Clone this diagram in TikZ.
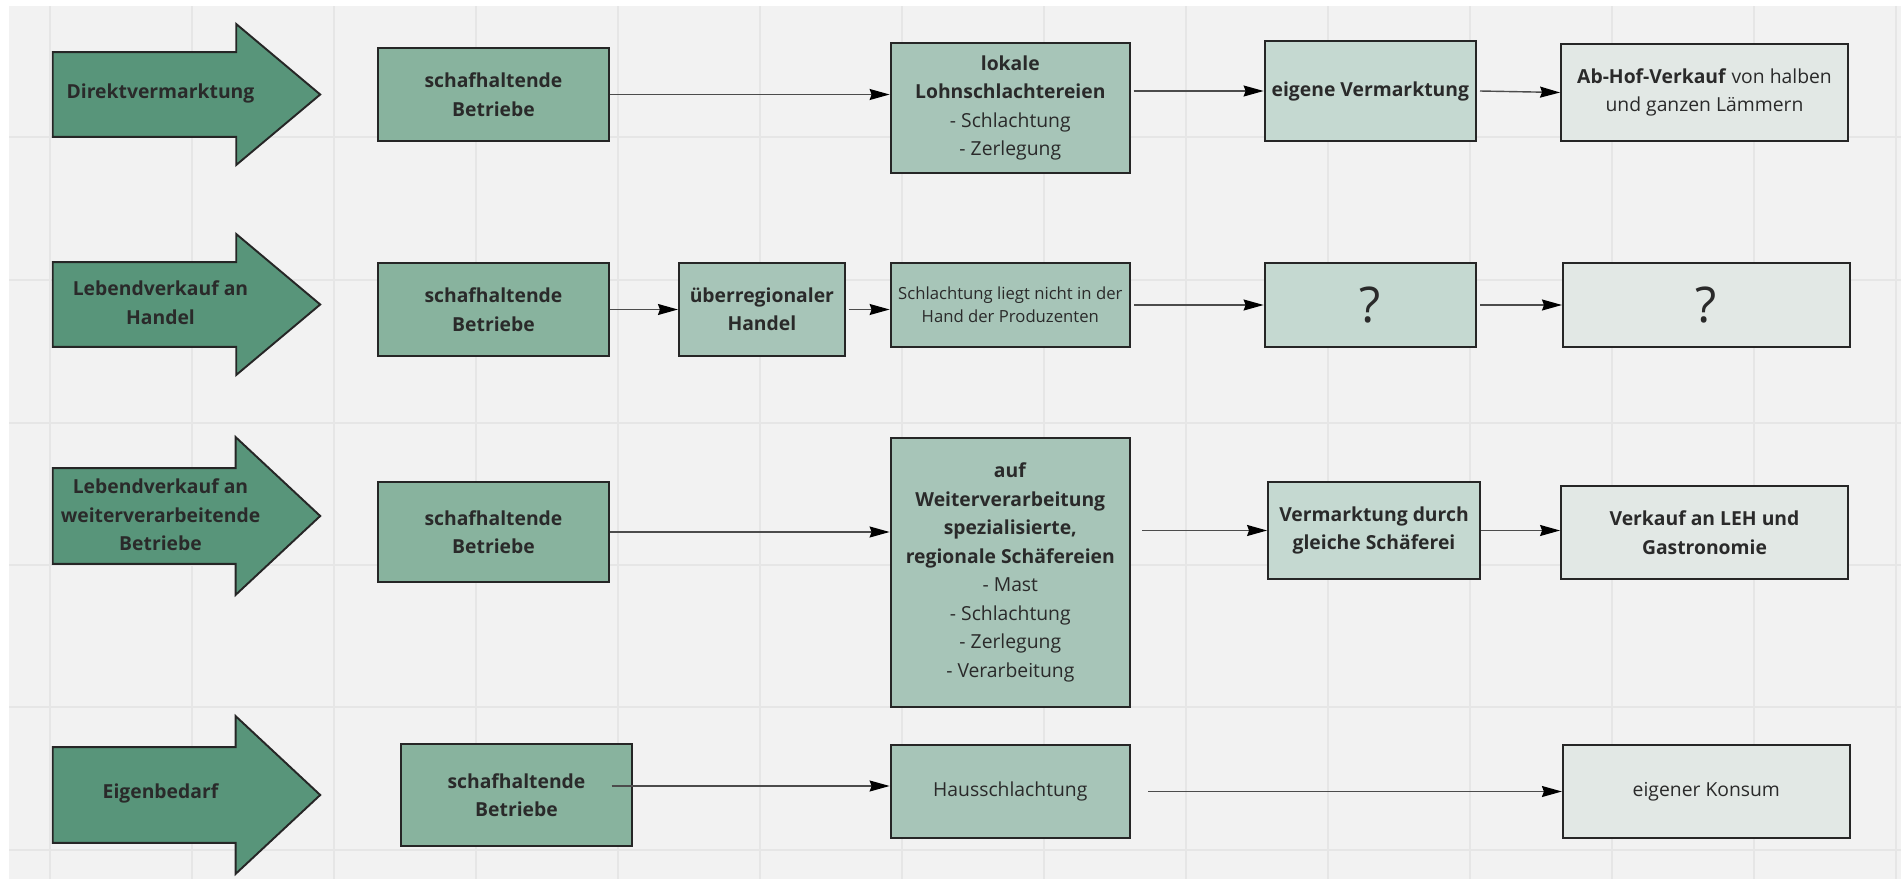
\documentclass[tikz,border=0pt]{standalone}
\usepackage{fontspec}
\setmainfont{Open Sans}
\usepackage{tikz}
\usetikzlibrary{arrows.meta, positioning, shapes.arrows}
\definecolor{canvasgray}{RGB}{242,242,242}
\definecolor{gridgray}{RGB}{230,230,230}
\definecolor{arrowgreen}{RGB}{88,149,122}
\definecolor{greenA}{RGB}{136,179,158}
\definecolor{greenB}{RGB}{167,197,184}
\definecolor{greenC}{RGB}{197,217,209}
\definecolor{greenD}{RGB}{226,232,229}
\definecolor{boxline}{RGB}{38,38,38}
\definecolor{textdark}{RGB}{42,42,42}

\begin{document}
\begin{tikzpicture}[x=0.02cm, y=-0.02cm,
    arrow/.style={-{Stealth[length=0.4cm, width=0.22cm, inset=0.04cm, color=black]}, line width=0.8pt, draw=black!70},
    gridline/.style={draw=gridgray, line width=0.9pt},
    route_arrow/.style={single arrow, draw=boxline, line width=1.1pt, fill=arrowgreen, anchor=tail,
        inner xsep=0pt, inner ysep=0.83cm, minimum height=5.35cm,
        single arrow head extend=0.56cm, single arrow tip angle=80},
    route_big/.style={route_arrow, inner ysep=0.94cm, single arrow head extend=0.62cm, single arrow tip angle=86},
    route_label/.style={align=center, text=textdark, font=\bfseries\fontsize{11}{16.2}\selectfont},
    box/.style={draw=boxline, line width=1.1pt, align=center, inner sep=2pt, text=textdark,
        minimum height=1.86cm, font=\fontsize{11}{16.2}\selectfont},
    farm_box/.style={box, fill=greenA, minimum width=4.62cm, font=\bfseries\fontsize{11}{16.2}\selectfont},
    slaughter_box/.style={box, fill=greenB, minimum width=4.79cm},
    market_box/.style={box, fill=greenC, minimum width=4.23cm},
    end_box/.style={box, fill=greenD, minimum width=5.74cm}
]

    % Canvas and background grid
    \useasboundingbox (0,0) rectangle (1901,879);
    \fill[white] (0,0) rectangle (1901,879);
    \fill[canvasgray] (9,6) rectangle (1901,879);
    \foreach \gx in {49.8,191.8,...,1896} \draw[gridline] (\gx,6) -- (\gx,879);
    \foreach \gy in {137,280,423,565,707,850} \draw[gridline] (9,\gy) -- (1901,\gy);

    % Route arrows on the left
    \node[route_arrow] (route_direkt) at (51.8,94.5) {};
    \node[route_label] (lbl_direkt) at (160.5,93) {Direktvermarktung};

    \node[route_arrow] (route_handel) at (51.8,304.5) {};
    \node[route_label] (lbl_handel) at (160.5,302.5) {Lebendverkauf an\\Handel};

    \node[route_big] (route_weiter) at (51.8,516) {};
    \node[route_label] (lbl_weiter) at (160.5,515) {Lebendverkauf an\\weiterverarbeitende\\Betriebe};

    \node[route_big] (route_eigen) at (51.8,795) {};
    \node[route_label] (lbl_eigen) at (160.5,793.5) {Eigenbedarf};

    % Row 1: Direktvermarktung
    \node[farm_box] (farm_1) at (493.5,94.5) {schafhaltende\\Betriebe};
    \node[slaughter_box, minimum height=2.6cm] (lohn) at (1010.3,108)
        {\textbf{lokale}\\\textbf{Lohnschlachtereien}\\- Schlachtung\\- Zerlegung};
    \node[market_box, minimum height=2cm, font=\bfseries\fontsize{11}{16.2}\selectfont] (own_market) at (1370.3,91) {eigene Vermarktung};
    \node[end_box, minimum height=1.94cm] (ab_hof) at (1704.5,92.5) {\textbf{Ab-Hof-Verkauf} von halben\\und ganzen Lämmern};

    % Row 2: Lebendverkauf an Handel
    \node[farm_box] (farm_2) at (493.5,309.5) {schafhaltende\\Betriebe};
    \node[box, fill=greenB, minimum width=3.32cm, font=\bfseries\fontsize{11}{16.2}\selectfont,
          right=1.36cm of farm_2] (handel) {überregionaler\\Handel};
    \node[slaughter_box, minimum height=1.68cm, font=\fontsize{9.5}{13.2}\selectfont] (not_producer) at (1010.3,305)
        {Schlachtung liegt nicht in der\\Hand der Produzenten};
    \node[market_box, minimum height=1.68cm, font=\fontsize{28}{30}\selectfont] (unknown_1) at (1370.3,305) {?};
    \node[end_box, minimum height=1.68cm, font=\fontsize{28}{30}\selectfont, right=1.7cm of unknown_1] (unknown_2) {?};

    % Row 3: Lebendverkauf an weiterverarbeitende Betriebe
    \node[farm_box, minimum height=2cm] (farm_3) at (493.5,532) {schafhaltende\\Betriebe};
    \node[slaughter_box, minimum height=5.38cm] (processing) at (1010.3,572.5)
        {\textbf{auf}\\\textbf{Weiterverarbeitung}\\\textbf{spezialisierte,}\\\textbf{regionale Schäfereien}\\- Mast\\- Schlachtung\\- Zerlegung\\- Verarbeitung};
    \node[market_box, minimum width=4.24cm, minimum height=1.94cm, font=\bfseries\fontsize{11}{16.2}\selectfont] (same_farm) at (1374,530.5)
        {Vermarktung durch\\gleiche Schäferei};
    \node[end_box, font=\bfseries\fontsize{11}{16.2}\selectfont] (leh) at (1704.5,532.5) {Verkauf an LEH und\\Gastronomie};

    % Row 4: Eigenbedarf
    \node[farm_box, minimum height=2.04cm] (farm_4) at (516.5,795) {schafhaltende\\Betriebe};
    \node[slaughter_box] (home_slaughter) at (1010.3,791.5) {Hausschlachtung};
    \node[end_box, right=8.62cm of home_slaughter] (own_use) {eigener Konsum};

    % Connections row 1
    \draw[arrow] (farm_1.east) -- (farm_1.east -| lohn.west);
    \draw[arrow] ([xshift=0.05cm]lohn.east |- own_market.west) -- (own_market.west);
    \draw[arrow] ([xshift=0.06cm]own_market.east) -- (ab_hof.west);

    % Connections row 2
    \draw[arrow] (farm_2.east) -- (handel.west);
    \draw[arrow] ([xshift=0.06cm]handel.east) -- (handel.east -| not_producer.west);
    \draw[arrow] ([xshift=0.06cm]not_producer.east) -- (unknown_1.west);
    \draw[arrow] ([xshift=0.06cm]unknown_1.east) -- (unknown_2.west);

    % Connections row 3
    \draw[arrow] (farm_3.east) -- (farm_3.east -| processing.west);
    \draw[arrow] ([xshift=0.22cm]processing.east |- same_farm.west) -- (same_farm.west);
    \draw[arrow] (same_farm.east) -- (same_farm.east -| leh.west);

    % Connections row 4 - line leaves from inside the farm box
    \coordinate (farm_4_out) at (611.5,786);
    \draw[arrow] (farm_4_out) -- (farm_4_out -| home_slaughter.west);
    \draw[arrow] ([xshift=0.35cm]home_slaughter.east) -- (own_use.west);

\end{tikzpicture}
\end{document}
